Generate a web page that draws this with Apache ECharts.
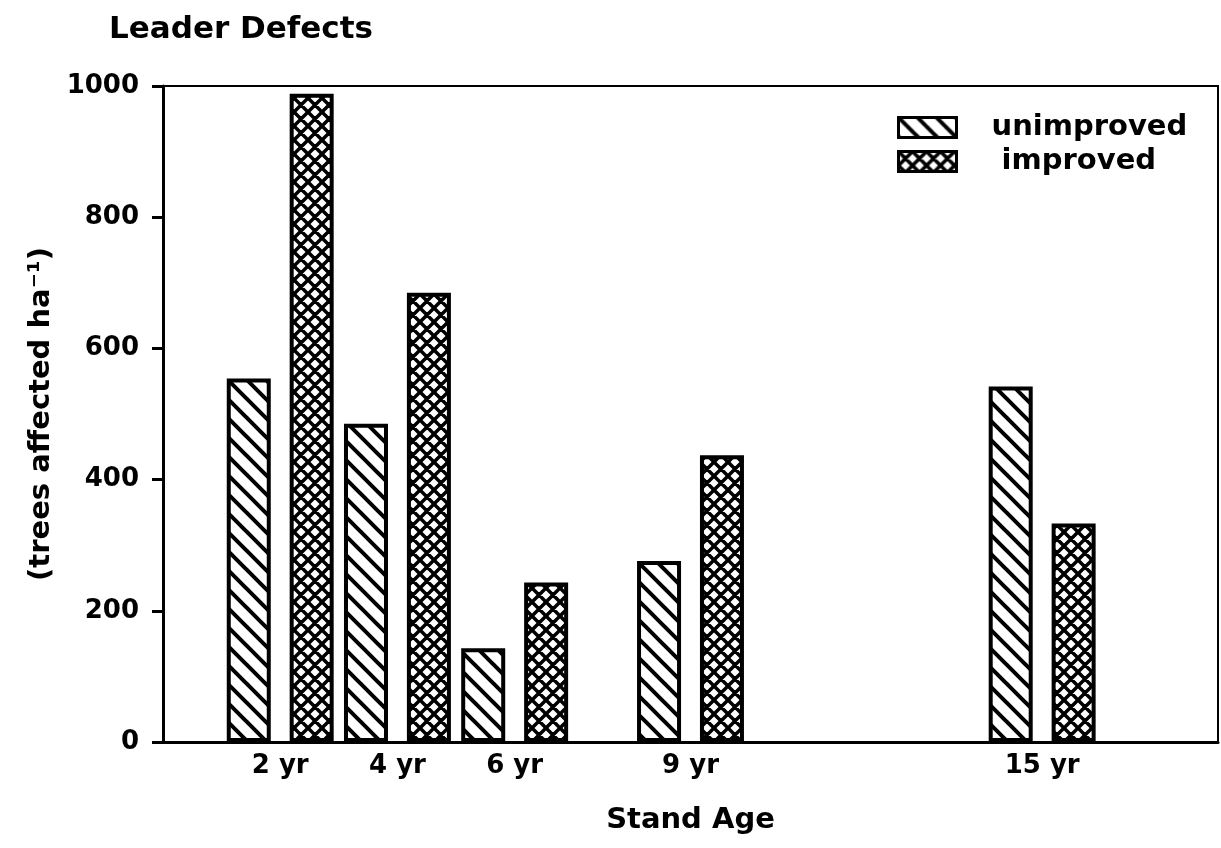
<!DOCTYPE html>
<html lang="en">
  <head>
    <meta charset="UTF-8" />
    <title>Leader Defects</title>
    <style>
      html, body { margin: 0; padding: 0; background: #fff; }
      #main { width: 1221px; height: 848px; }
    </style>
  </head>
  <body>
    <div id="main"></div>
    <script src="https://cdn.jsdelivr.net/npm/echarts@6.0.0/dist/echarts.min.js"></script>
    <script>
      // stand age (years) and trees affected per ha
      const ages = [2, 4, 6, 9, 15]
      const unimproved = [554, 485, 143, 276, 542]
      const improved = [988, 685, 243, 437, 333]
      const yTicks = [0, 200, 400, 600, 800, 1000]

      // hatch tiles, drawn once on small canvases
      function hatch(size, cross, lw) {
        const c = document.createElement('canvas')
        c.width = c.height = size
        const g = c.getContext('2d')
        g.fillStyle = '#fff'
        g.fillRect(0, 0, size, size)
        g.strokeStyle = '#000'
        g.lineWidth = lw
        g.lineCap = 'square'
        g.beginPath()
        for (let k = -1; k <= 1; k++) {
          g.moveTo(k * size, 0)
          g.lineTo(k * size + size, size)
          if (cross) {
            g.moveTo(k * size, size)
            g.lineTo(k * size + size, 0)
          }
        }
        g.stroke()
        return c
      }

      const font = 'DejaVu Sans'
      const chart = echarts.init(document.getElementById('main'))

      chart.setOption({
        animation: false,
        title: {
          text: 'Leader Defects',
          left: 104,
          top: 9,
          textStyle: { fontFamily: font, fontSize: 31, fontWeight: 'bold', color: '#000' }
        },
        legend: {
          orient: 'vertical',
          left: 892,
          top: 108,
          itemWidth: 58,
          itemHeight: 20,
          itemGap: 5,
          icon: 'rect',
          itemStyle: { borderColor: '#000', borderWidth: 3 },
          formatter: name => (name === 'improved' ? ' ' + name : name),
          textStyle: {
            fontFamily: font,
            fontSize: 29,
            fontWeight: 'bold',
            color: '#000',
            padding: [0, 0, 0, 30]
          },
          data: ['unimproved', 'improved']
        },
        grid: {
          left: 163,
          right: 1,
          top: 86,
          bottom: 106,
          show: true,
          borderColor: '#000',
          borderWidth: 2
        },
        xAxis: {
          type: 'value',
          min: 0,
          max: 18,
          interval: 1,
          name: 'Stand Age',
          nameLocation: 'middle',
          nameGap: 64,
          nameTextStyle: { fontFamily: font, fontSize: 29, fontWeight: 'bold', color: '#000' },
          axisLine: { lineStyle: { color: '#000', width: 3 } },
          axisTick: { show: false },
          splitLine: { show: false },
          axisLabel: {
            margin: 11,
            fontFamily: font,
            fontSize: 26,
            fontWeight: 'bold',
            color: '#000',
            formatter: v => (ages.includes(v) ? v + ' yr' : '')
          }
        },
        yAxis: {
          type: 'value',
          min: yTicks[0],
          max: yTicks[yTicks.length - 1],
          interval: 200,
          name: '(trees affected ha⁻¹)',
          nameLocation: 'middle',
          nameGap: 104,
          nameTextStyle: { fontFamily: font, fontSize: 29, fontWeight: 'bold', color: '#000' },
          axisLine: { show: true, lineStyle: { color: '#000', width: 3 } },
          axisTick: { show: true, length: 11, lineStyle: { color: '#000', width: 3 } },
          splitLine: { show: false },
          axisLabel: {
            margin: 24,
            fontFamily: font,
            fontSize: 26,
            fontWeight: 'bold',
            color: '#000',
            formatter: v => String(v)
          }
        },
        series: [
          {
            name: 'unimproved',
            type: 'bar',
            barWidth: 44,
            barGap: '43%',
            data: ages.map((a, i) => [a, unimproved[i]]),
            itemStyle: {
              color: { image: hatch(19, false, 4), repeat: 'repeat' },
              borderColor: '#000',
              borderWidth: 4
            }
          },
          {
            name: 'improved',
            type: 'bar',
            barWidth: 44,
            barGap: '43%',
            data: ages.map((a, i) => [a, improved[i]]),
            itemStyle: {
              color: { image: hatch(14, true, 3.5), repeat: 'repeat' },
              borderColor: '#000',
              borderWidth: 4
            }
          }
        ]
      })
    </script>
  </body>
</html>
